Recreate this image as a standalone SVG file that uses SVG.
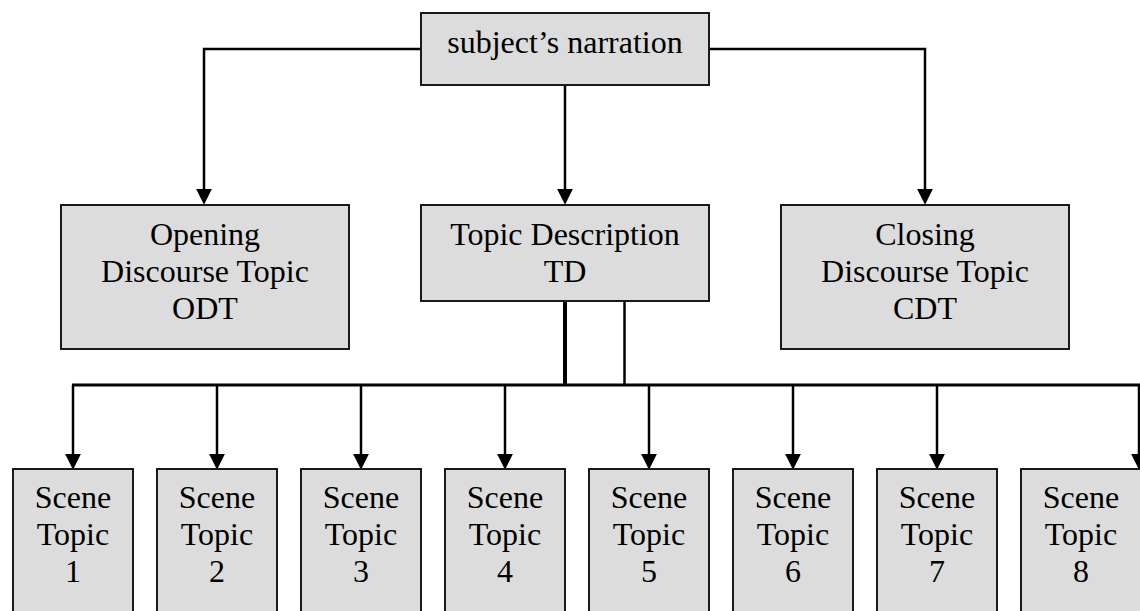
<svg xmlns="http://www.w3.org/2000/svg" width="1140" height="611" viewBox="0 0 1140 611">
<defs>
<marker id="arr" markerUnits="userSpaceOnUse" markerWidth="16" markerHeight="16" viewBox="0 0 15 15" refX="3" refY="7.5" orient="auto">
<path d="M0,0 L15,7.5 L0,15 z" fill="#000"/>
</marker>
<style>
.box{fill:#dcdcdc;stroke:#1a1a1a;stroke-width:2}
.t{font-family:"Liberation Serif","Times New Roman",serif;font-size:32px;fill:#000;text-anchor:middle}
.c{fill:none;stroke:#000;stroke-width:2.5}
.a{marker-end:url(#arr)}
</style>
</defs>
<g id="connectors">
<path class="c a" d="M421,49 H204 V192"/>
<path class="c a" d="M709,49 H925 V192"/>
<path class="c a" d="M565,85 V192"/>
<path class="c" d="M565,301 V385" style="stroke-width:4"/>
<path class="c" d="M624.5,301 V385"/>
<path class="c" d="M72,385 H1140" style="stroke-width:3"/>
<path class="c a" d="M73,385 V457"/>
<path class="c a" d="M217,385 V457"/>
<path class="c a" d="M361,385 V457"/>
<path class="c a" d="M505,385 V457"/>
<path class="c a" d="M649,385 V457"/>
<path class="c a" d="M793,385 V457"/>
<path class="c a" d="M937,385 V457"/>
<path class="c a" d="M1139,385 V457"/>
</g>
<g id="root">
<rect class="box" x="421" y="13" width="288" height="72"/>
<text class="t" x="565" y="53">subject’s narration</text>
</g>
<g id="odt">
<rect class="box" x="61" y="205" width="288" height="144"/>
<text class="t" x="205" y="245">Opening</text>
<text class="t" x="205" y="282">Discourse Topic</text>
<text class="t" x="205" y="319">ODT</text>
</g>
<g id="td">
<rect class="box" x="421" y="205" width="288" height="96"/>
<text class="t" x="565" y="245">Topic Description</text>
<text class="t" x="565" y="282">TD</text>
</g>
<g id="cdt">
<rect class="box" x="781" y="205" width="288" height="144"/>
<text class="t" x="925" y="245">Closing</text>
<text class="t" x="925" y="282">Discourse Topic</text>
<text class="t" x="925" y="319">CDT</text>
</g>
<g id="scene1"><rect class="box" x="13" y="469" width="120" height="160"/><text class="t" x="73" y="508">Scene</text><text class="t" x="73" y="545">Topic</text><text class="t" x="73" y="582">1</text></g>
<g id="scene2"><rect class="box" x="157" y="469" width="120" height="160"/><text class="t" x="217" y="508">Scene</text><text class="t" x="217" y="545">Topic</text><text class="t" x="217" y="582">2</text></g>
<g id="scene3"><rect class="box" x="301" y="469" width="120" height="160"/><text class="t" x="361" y="508">Scene</text><text class="t" x="361" y="545">Topic</text><text class="t" x="361" y="582">3</text></g>
<g id="scene4"><rect class="box" x="445" y="469" width="120" height="160"/><text class="t" x="505" y="508">Scene</text><text class="t" x="505" y="545">Topic</text><text class="t" x="505" y="582">4</text></g>
<g id="scene5"><rect class="box" x="589" y="469" width="120" height="160"/><text class="t" x="649" y="508">Scene</text><text class="t" x="649" y="545">Topic</text><text class="t" x="649" y="582">5</text></g>
<g id="scene6"><rect class="box" x="733" y="469" width="120" height="160"/><text class="t" x="793" y="508">Scene</text><text class="t" x="793" y="545">Topic</text><text class="t" x="793" y="582">6</text></g>
<g id="scene7"><rect class="box" x="877" y="469" width="120" height="160"/><text class="t" x="937" y="508">Scene</text><text class="t" x="937" y="545">Topic</text><text class="t" x="937" y="582">7</text></g>
<g id="scene8"><rect class="box" x="1021" y="469" width="140" height="160"/><text class="t" x="1081" y="508">Scene</text><text class="t" x="1081" y="545">Topic</text><text class="t" x="1081" y="582">8</text></g>
</svg>
